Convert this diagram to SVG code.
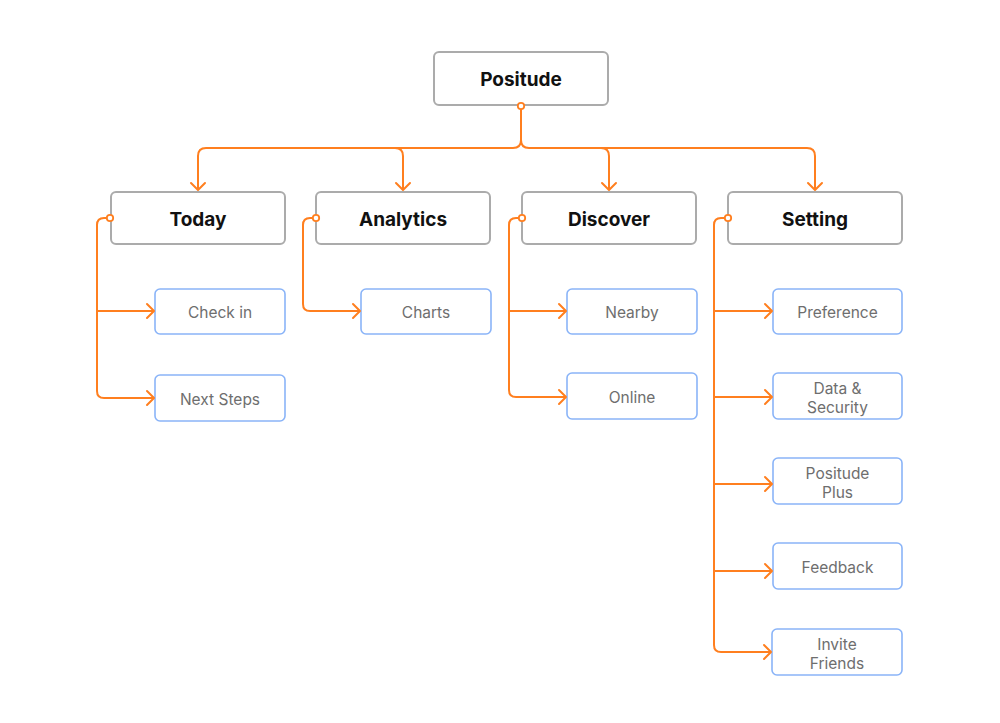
<svg xmlns="http://www.w3.org/2000/svg" width="1000" height="723" viewBox="0 0 1000 723">
<defs>
<marker id="arr" markerUnits="userSpaceOnUse" markerWidth="20" markerHeight="20" viewBox="-10 -10 20 20" refX="0" refY="0" orient="auto">
<path d="M-7,-7 L0,0 L-7,7" fill="none" stroke="#FF7F1F" stroke-width="2" stroke-linejoin="round" stroke-linecap="round"/>
</marker>
<style>
.main{fill:#fff;stroke:#ababab;stroke-width:2}
.sub{fill:#fff;stroke:#8ab4f8;stroke-width:1.6}
.t1{font-family:Inter,"Noto Sans","Liberation Sans",sans-serif;font-weight:700;font-size:19px;fill:#111;text-anchor:middle}
.t2{font-family:Inter,"Noto Sans","Liberation Sans",sans-serif;font-size:15.5px;fill:#6e6e6e;text-anchor:middle}
.c{fill:none;stroke:#FF7F1F;stroke-width:2}
.a{fill:none;stroke:#FF7F1F;stroke-width:2;marker-end:url(#arr)}
.dot{fill:#fff;stroke:#FF7F1F;stroke-width:1.8}
</style>
</defs>
<rect width="1000" height="723" fill="#fff"/>
<g id="positude"><rect class="main" x="434" y="52" width="174" height="53" rx="5"/><text class="t1" x="521" y="86">Positude</text></g>
<g id="today"><rect class="main" x="111" y="192" width="174" height="52" rx="5"/><text class="t1" x="198" y="225.5">Today</text></g>
<g id="analytics"><rect class="main" x="316" y="192" width="174" height="52" rx="5"/><text class="t1" x="403" y="225.5">Analytics</text></g>
<g id="discover"><rect class="main" x="522" y="192" width="174" height="52" rx="5"/><text class="t1" x="609" y="225.5">Discover</text></g>
<g id="setting"><rect class="main" x="728" y="192" width="174" height="52" rx="5"/><text class="t1" x="815" y="225.5">Setting</text></g>
<g id="checkin"><rect class="sub" x="155" y="289" width="130" height="45" rx="5"/><text class="t2" x="220" y="318">Check in</text></g>
<g id="nextsteps"><rect class="sub" x="155" y="375" width="130" height="46" rx="5"/><text class="t2" x="220" y="404.5">Next Steps</text></g>
<g id="charts"><rect class="sub" x="361" y="289" width="130" height="45" rx="5"/><text class="t2" x="426" y="318">Charts</text></g>
<g id="nearby"><rect class="sub" x="567" y="289" width="130" height="45" rx="5"/><text class="t2" x="632" y="318">Nearby</text></g>
<g id="online"><rect class="sub" x="567" y="373" width="130" height="46" rx="5"/><text class="t2" x="632" y="403">Online</text></g>
<g id="preference"><rect class="sub" x="773" y="289" width="129" height="45" rx="5"/><text class="t2" x="837.5" y="318">Preference</text></g>
<g id="datasecurity"><rect class="sub" x="773" y="373" width="129" height="46" rx="5"/><text class="t2" x="837.5" y="393.5">Data &amp;</text><text class="t2" x="837.5" y="412.5">Security</text></g>
<g id="positudeplus"><rect class="sub" x="773" y="458" width="129" height="46" rx="5"/><text class="t2" x="837.5" y="478.5">Positude</text><text class="t2" x="837.5" y="497.5">Plus</text></g>
<g id="feedback"><rect class="sub" x="773" y="543" width="129" height="46" rx="5"/><text class="t2" x="837.5" y="572.5">Feedback</text></g>
<g id="invitefriends"><rect class="sub" x="772" y="629" width="130" height="46" rx="5"/><text class="t2" x="837" y="649.5">Invite</text><text class="t2" x="837" y="668.5">Friends</text></g>
<g id="connectors">
<path class="c" d="M521,109 V140 Q521,148 513,148 H206 Q198,148 198,156 V188"/>
<path class="a" d="M198,156 V190"/>
<path class="c" d="M521,140 Q521,148 529,148 H807 Q815,148 815,156 V188"/>
<path class="a" d="M815,156 V190"/>
<path class="a" d="M395,148 Q403,148 403,156 V190"/>
<path class="a" d="M601,148 Q609,148 609,156 V190"/>
<path class="a" d="M107,218 H104 Q97,218 97,225 V391 Q97,398 104,398 H154"/>
<path class="a" d="M97,311 H154"/>
<path class="a" d="M313,218 H310 Q303,218 303,225 V304 Q303,311 310,311 H360"/>
<path class="a" d="M519,218 H516 Q509,218 509,225 V390 Q509,397 516,397 H566"/>
<path class="a" d="M509,311 H566"/>
<path class="a" d="M725,218 H721 Q714,218 714,225 V645 Q714,652 721,652 H771"/>
<path class="a" d="M714,311 H772"/>
<path class="a" d="M714,397 H772"/>
<path class="a" d="M714,484 H772"/>
<path class="a" d="M714,571 H772"/>
<circle class="dot" cx="521" cy="106" r="3.2"/>
<circle class="dot" cx="110" cy="218" r="3.2"/>
<circle class="dot" cx="316" cy="218" r="3.2"/>
<circle class="dot" cx="522" cy="218" r="3.2"/>
<circle class="dot" cx="728" cy="218" r="3.2"/>
</g>
</svg>
